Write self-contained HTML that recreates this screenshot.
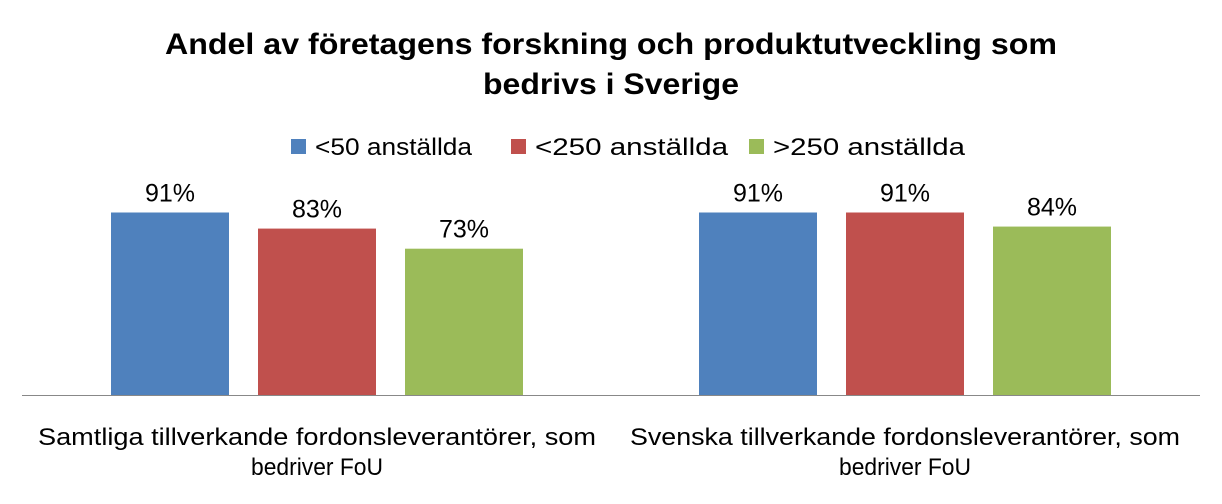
<!DOCTYPE html>
<html><head><meta charset="utf-8"><style>
body{margin:0;background:#fff;}
svg text{font-family:"Liberation Sans",Calibri,sans-serif;}
</style></head><body>
<svg id="chart" width="1222" height="499" xmlns="http://www.w3.org/2000/svg">
<text x="611" y="54" text-anchor="middle" font-size="30" font-weight="bold" fill="#000" textLength="892" lengthAdjust="spacingAndGlyphs">Andel av företagens forskning och produktutveckling som</text>
<text x="611" y="94" text-anchor="middle" font-size="30" font-weight="bold" fill="#000" textLength="256" lengthAdjust="spacingAndGlyphs">bedrivs i Sverige</text>
<g id="legend"></g>
<g id="bars"></g>
<line x1="22" y1="395.5" x2="1200" y2="395.5" stroke="#888" stroke-width="1"/>
<g id="cats"></g>
</svg>
<script>
const categories = [["Samtliga tillverkande fordonsleverantörer, som","bedriver FoU"],["Svenska tillverkande fordonsleverantörer, som","bedriver FoU"]];
const seriesNames = ["<50 anställda","<250 anställda",">250 anställda"];
const seriesColors = ["#4f81bd","#c0504d","#9bbb59"];
const values = [[91,91],[83,91],[73,84]];
const NS="http://www.w3.org/2000/svg";
function mk(tag,attrs,parent){const e=document.createElementNS(NS,tag);for(const k in attrs)e.setAttribute(k,attrs[k]);parent.appendChild(e);return e;}
const baseY=395.5, pxPer=2.011;
const y=v=>baseY-v*pxPer;
const groupStart=[111,699], barW=118, step=147;
const bars=document.getElementById('bars');
values.forEach((ser,s)=>{ser.forEach((v,c)=>{
  const x=groupStart[c]+s*step;
  const r=mk('rect',{x:x,y:y(v),width:barW,height:baseY-y(v),fill:seriesColors[s]},bars);
  
  
  const t=mk('text',{x:x+barW/2,y:y(v)-11,'text-anchor':'middle','font-size':25,fill:'#000'},bars);
  t.textContent=v+'%';
  
  
});});
const legend=document.getElementById('legend');
const legX=[291,511,749];
const legW=[157,193,192];
seriesNames.forEach((n,i)=>{
  const r=mk('rect',{x:legX[i],y:139,width:15,height:15,fill:seriesColors[i]},legend);
  
  
  const t=mk('text',{x:legX[i]+24,y:155,'font-size':24,fill:'#000',textLength:legW[i],lengthAdjust:'spacingAndGlyphs'},legend);
  t.textContent=n;
  
  
});
const cats=document.getElementById('cats');
const catX=[317,905];
const catW=[[558,132],[550,132]];
categories.forEach((lines,c)=>{lines.forEach((l,i)=>{
  const t=mk('text',{x:catX[c],y:445+i*30,'text-anchor':'middle','font-size':24,fill:'#000',textLength:catW[c][i],lengthAdjust:'spacingAndGlyphs'},cats);
  t.textContent=l;
  
  
});});
</script>
</body></html>
